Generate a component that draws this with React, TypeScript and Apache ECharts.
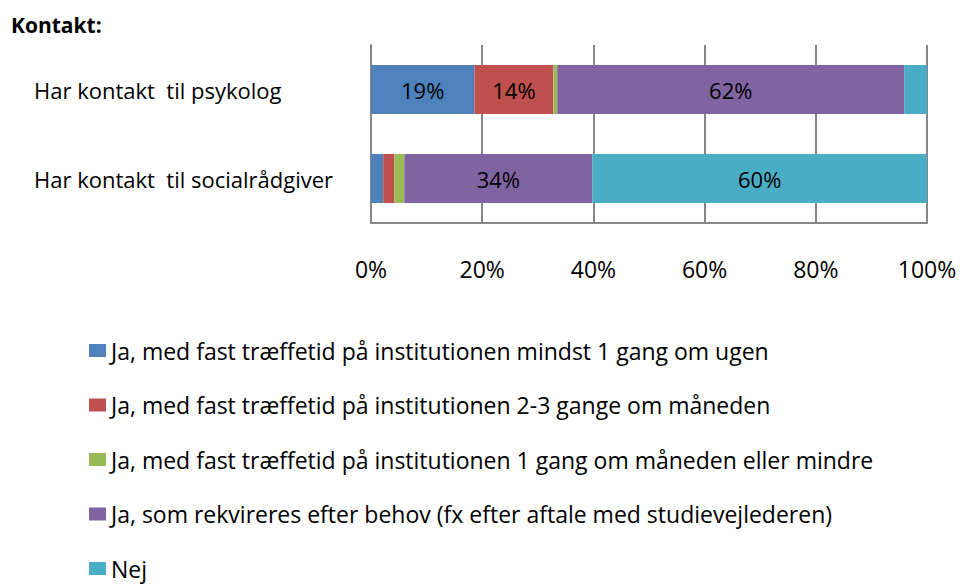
import React, { useEffect, useRef } from "react";
import * as echarts from "echarts";

const categories = ["Har kontakt  til psykolog", "Har kontakt  til socialrådgiver"];
const seriesNames = [
  "Ja, med fast træffetid på institutionen mindst 1 gang om ugen",
  "Ja, med fast træffetid på institutionen 2-3 gange om måneden",
  "Ja, med fast træffetid på institutionen 1 gang om måneden eller mindre",
  "Ja, som rekvireres efter behov (fx efter aftale med studievejlederen)",
  "Nej",
];
const weeklyValues = [18.6, 2.2];
const monthlyValues = [14.2, 2.0];
const lessValues = [0.7, 1.8];
const needValues = [62.4, 33.8];
const noValues = [4.1, 60.2];
const colors = ["#4F81BD", "#C0504D", "#9BBB59", "#8064A2", "#4BACC6"];
const xTicks = [0, 20, 40, 60, 80, 100];

const FONT = "'Open Sans', sans-serif";

export default function App() {
  const ref = useRef<HTMLDivElement>(null);
  useEffect(() => {
    if (!ref.current) return;
    const chart = echarts.init(ref.current, undefined, { renderer: "svg" });
    const allValues = [weeklyValues, monthlyValues, lessValues, needValues, noValues];
    chart.setOption({
      animation: false,
      textStyle: { fontFamily: FONT },
      title: {
        text: "Kontakt:",
        left: 11,
        top: 13,
        padding: 0,
        textStyle: { fontFamily: FONT, fontSize: 21, fontWeight: "bold", color: "#000", lineHeight: 24 },
      },
      grid: { left: 371, right: 35, top: 45, bottom: 361, containLabel: false },
      xAxis: {
        type: "value",
        min: xTicks[0],
        max: xTicks[xTicks.length - 1],
        interval: 20,
        axisLabel: {
          formatter: "{value}%",
          color: "#000",
          fontSize: 23,
          fontFamily: FONT,
          margin: 34,
        },
        axisLine: { show: true, lineStyle: { color: "#868686", width: 2 } },
        axisTick: { show: false },
        splitLine: { show: true, lineStyle: { color: "#868686", width: 2 } },
      },
      yAxis: {
        type: "category",
        inverse: true,
        data: categories,
        axisLine: { show: true, lineStyle: { color: "#868686", width: 2 } },
        axisTick: { show: false },
        axisLabel: {
          align: "left",
          margin: 337,
          color: "#000",
          fontSize: 22,
          fontFamily: FONT,
        },
      },
      legend: {
        orient: "vertical",
        left: 89,
        top: 339,
        height: 300,
        padding: 0,
        itemWidth: 17,
        itemHeight: 13,
        itemGap: 31.5,
        icon: "rect",
        selectedMode: false,
        textStyle: { fontSize: 23, fontFamily: FONT, color: "#000", lineHeight: 20 },
        data: seriesNames,
      },
      series: seriesNames.map((name, i) => ({
        name,
        type: "bar",
        stack: "total",
        barWidth: 49,
        data: allValues[i],
        itemStyle: { color: colors[i] },
        label: {
          show: true,
          position: "inside",
          color: "#000",
          fontSize: 22,
          fontFamily: FONT,
          formatter: (p: any) => (p.value >= 10 ? Math.round(p.value) + "%" : ""),
        },
      })),
    });
    return () => chart.dispose();
  }, []);
  return (
    <div
      ref={ref}
      style={{ position: "fixed", left: 0, top: 0, width: 962, height: 584, background: "#fff" }}
    />
  );
}
